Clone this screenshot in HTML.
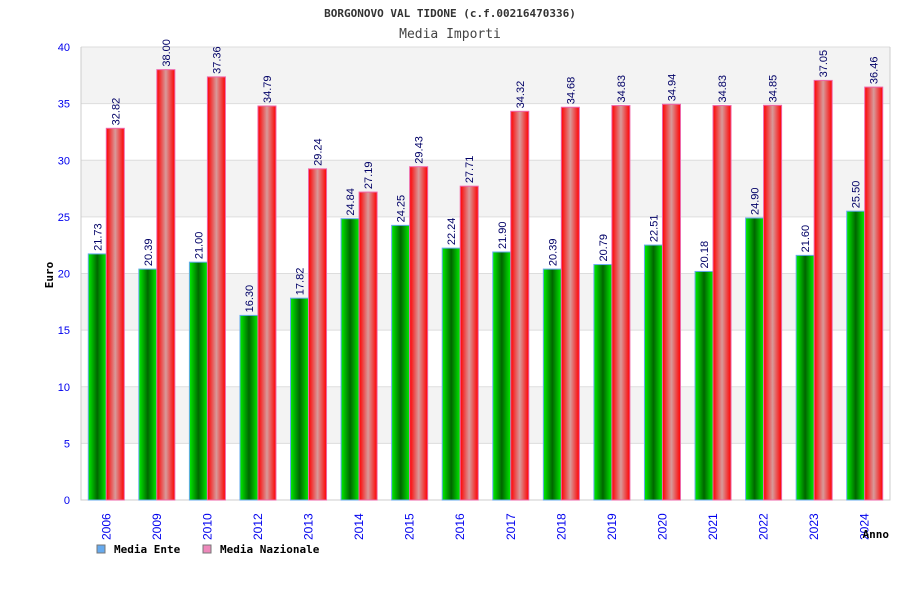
<!DOCTYPE html>
<html><head><meta charset="utf-8"><style>
body{margin:0;background:#fff;}
svg text{font-family:"Liberation Sans",sans-serif;}
svg text.mono{font-family:"DejaVu Sans Mono","Liberation Mono",monospace;}
</style></head><body>
<svg id="chart" width="900" height="600" xmlns="http://www.w3.org/2000/svg">
<defs>
<linearGradient id="gG" x1="0" x2="1" y1="0" y2="0"><stop offset="0" stop-color="#00ee00"/><stop offset="0.5" stop-color="#006600"/><stop offset="1" stop-color="#00ee00"/></linearGradient>
<linearGradient id="gR" x1="0" x2="1" y1="0" y2="0"><stop offset="0" stop-color="#ff0000"/><stop offset="0.5" stop-color="#d89a9a"/><stop offset="1" stop-color="#ff0000"/></linearGradient>
</defs>
<text class="mono" x="450" y="17" text-anchor="middle" font-size="11" font-weight="bold" fill="#333">BORGONOVO VAL TIDONE (c.f.00216470336)</text>
<text class="mono" x="450" y="38" text-anchor="middle" font-size="13" fill="#444">Media Importi</text>
<g id="plot"></g>
<text class="mono" transform="translate(53,275) rotate(-90)" text-anchor="middle" font-size="11" font-weight="bold" fill="#000">Euro</text>
<text class="mono" x="889" y="538" text-anchor="end" font-size="11" font-weight="bold" fill="#000">Anno</text>
<g><rect x="97" y="545" width="8" height="8" fill="#66aaee" stroke="#777"/><text class="mono" x="114" y="553" font-size="11" font-weight="bold">Media Ente</text></g>
<g><rect x="203" y="545" width="8" height="8" fill="#ee88bb" stroke="#777"/><text class="mono" x="220" y="553" font-size="11" font-weight="bold">Media Nazionale</text></g>
</svg>
<script>
const categories=["2006","2009","2010","2012","2013","2014","2015","2016","2017","2018","2019","2020","2021","2022","2023","2024"];
const enteValues=[21.73,20.39,21.00,16.30,17.82,24.84,24.25,22.24,21.90,20.39,20.79,22.51,20.18,24.90,21.60,25.50];
const nazionaleValues=[32.82,38.00,37.36,34.79,29.24,27.19,29.43,27.71,34.32,34.68,34.83,34.94,34.83,34.85,37.05,36.46];
const yTicks=[0,5,10,15,20,25,30,35,40];
const NS="http://www.w3.org/2000/svg";
const L=81,R=890,T=47,B=500,yMax=40;
const y=v=>B-(v/yMax)*(B-T);
const bw=(R-L)/categories.length;
const cx=i=>L+bw*(i+0.5);
const g=document.getElementById('plot');
function mk(t,a){const e=document.createElementNS(NS,t);for(const k in a)e.setAttribute(k,a[k]);g.appendChild(e);return e;}
for(let i=0;i<yTicks.length-1;i++){
 const b=mk('rect',{x:L,y:y(yTicks[i+1]),width:R-L,height:y(yTicks[i])-y(yTicks[i+1]),fill:(i%2==1)?'#f3f3f3':'#fff'});
 
 
}
yTicks.forEach(v=>{
 const l=mk('line',{x1:L,x2:R,y1:y(v),y2:y(v),stroke:'#ddd'});
 
 
 const t=mk('text',{x:70,y:y(v)+4,'text-anchor':'end','font-size':'11',fill:'#0000ee'});
 t.textContent=v;
 
 
});
const ax=mk('path',{d:`M${L} ${T}V${B}H${R}V${T}`,fill:'none',stroke:'#ccc'});


function label(x,v){
 const t=mk('text',{transform:`translate(${x+4},${y(v)-3}) rotate(-90)`,'font-size':'11',fill:'#000066'});
 t.textContent=v.toFixed(2);
 
 
}
categories.forEach((c,i)=>{
 const x=cx(i);
 const a=mk('rect',{x:x-18,y:y(enteValues[i]),width:18,height:B-y(enteValues[i]),fill:'url(#gG)',stroke:'#66aaee','stroke-width':'1'});
 
 
 const b=mk('rect',{x:x,y:y(nazionaleValues[i]),width:18,height:B-y(nazionaleValues[i]),fill:'url(#gR)',stroke:'#ee66aa','stroke-width':'1'});
 
 
 label(x-9,enteValues[i]);
 label(x+9,nazionaleValues[i]);
 const t=mk('text',{transform:`translate(${x+4},${540}) rotate(-90)`,'font-size':'12',fill:'#0000ee'});
 t.textContent=c;
 
 
});
</script>
</body></html>
